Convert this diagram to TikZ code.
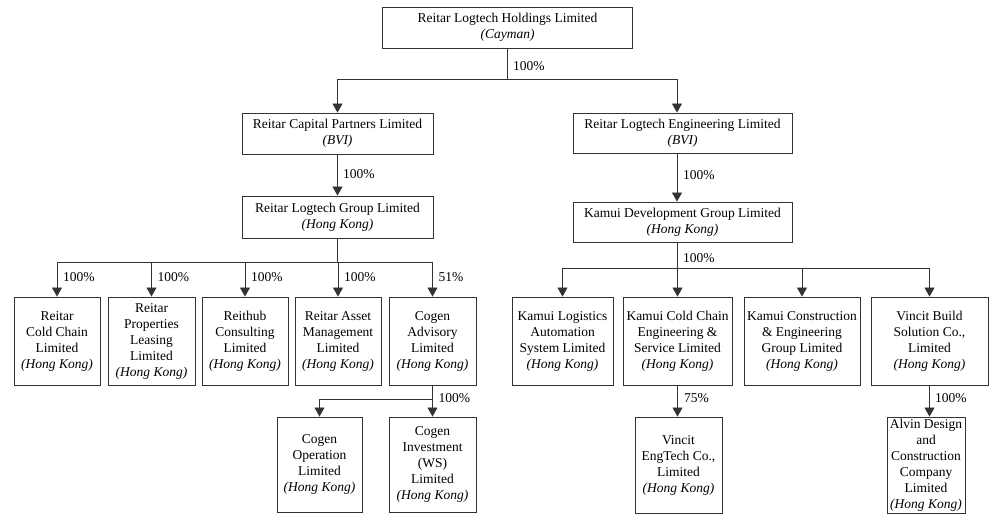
\documentclass[tikz,border=0pt]{standalone}
\usepackage{fontspec}
\setmainfont{Liberation Serif}
\usetikzlibrary{arrows.meta}
\begin{document}
\begin{tikzpicture}[x=1pt,y=-1pt,
  box/.style={draw=black!80, line width=0.9pt, align=center, inner sep=1pt,
    font=\fontsize{13.5}{16}\selectfont},
  conn/.style={draw=black!80, line width=0.8pt},
  arr/.style={conn, -{Triangle[width=10pt,length=9pt]}},
  pct/.style={anchor=west, inner sep=0pt, font=\fontsize{13.5}{16}\selectfont}]
\useasboundingbox (0,0) rectangle (1002,526);
% top levels
\node[box, minimum width=250pt, minimum height=41pt] (top) at (507.5,27.5) {Reitar Logtech Holdings Limited\\\textit{(Cayman)}};
\node[box, minimum width=191pt, minimum height=41pt] (rcp) at (337.5,133.5) {Reitar Capital Partners Limited\\\textit{(BVI)}};
\node[box, minimum width=219pt, minimum height=40pt] (rle) at (682.5,133) {Reitar Logtech Engineering Limited\\\textit{(BVI)}};
\node[box, minimum width=191pt, minimum height=42pt] (rlg) at (337.5,217) {Reitar Logtech Group Limited\\\textit{(Hong Kong)}};
\node[box, minimum width=219pt, minimum height=40pt] (kdg) at (682.5,222) {Kamui Development Group Limited\\\textit{(Hong Kong)}};
% left row
\node[box, minimum width=86pt, minimum height=88pt] (L1) at (57,341) {Reitar\\Cold Chain\\Limited\\\textit{(Hong Kong)}};
\node[box, minimum width=87pt, minimum height=88pt] (L2) at (151.5,341) {Reitar\\Properties\\Leasing\\Limited\\\textit{(Hong Kong)}};
\node[box, minimum width=86pt, minimum height=88pt] (L3) at (245,341) {Reithub\\Consulting\\Limited\\\textit{(Hong Kong)}};
\node[box, minimum width=86pt, minimum height=88pt] (L4) at (338,341) {Reitar Asset\\Management\\Limited\\\textit{(Hong Kong)}};
\node[box, minimum width=87pt, minimum height=88pt] (L5) at (432.5,341) {Cogen\\Advisory\\Limited\\\textit{(Hong Kong)}};
% right row
\node[box, minimum width=101pt, minimum height=88pt] (R1) at (562.5,341) {Kamui Logistics\\Automation\\System Limited\\\textit{(Hong Kong)}};
\node[box, minimum width=109pt, minimum height=88pt] (R2) at (677.5,341) {Kamui Cold Chain\\Engineering \&\\Service Limited\\\textit{(Hong Kong)}};
\node[box, minimum width=116pt, minimum height=88pt] (R3) at (802,341) {Kamui Construction\\\& Engineering\\Group Limited\\\textit{(Hong Kong)}};
\node[box, minimum width=117pt, minimum height=88pt] (R4) at (929.5,341) {Vincit Build\\Solution Co.,\\Limited\\\textit{(Hong Kong)}};
% bottom row
\node[box, minimum width=85pt, minimum height=95pt] (C1) at (319.5,464.5) {Cogen\\Operation\\Limited\\\textit{(Hong Kong)}};
\node[box, minimum width=87pt, minimum height=95pt] (C2) at (432.5,464.5) {Cogen\\Investment\\(WS)\\Limited\\\textit{(Hong Kong)}};
\node[box, minimum width=87pt, minimum height=96pt] (V) at (678.5,465) {Vincit\\EngTech Co.,\\Limited\\\textit{(Hong Kong)}};
\node[box, minimum width=78pt, minimum height=96pt] (A) at (926,465) {Alvin Design\\and\\Construction\\Company\\Limited\\\textit{(Hong Kong)}};
% junctions
\coordinate (j1) at (507.5,79);
\coordinate (j2) at (337.5,262);
\coordinate (j3) at (677,268);
\coordinate (j4) at (432.5,399);
% connectors top
\draw[conn] (top.south) -- (j1);
\draw[arr] (j1) -| (rcp.north);
\draw[arr] (j1) -| ([xshift=-5.5pt]rle.north);
\draw[arr] (rcp.south) -- (rlg.north);
\draw[arr] ([xshift=-5.5pt]rle.south) -- ([xshift=-5.5pt]kdg.north);
% left row
\draw[conn] (rlg.south) -- (j2);
\draw[conn] (j2 -| L1.north) -- (j2 -| L5.north);
\foreach \n in {L1,L2,L3,L4,L5} \draw[arr] (j2 -| \n.north) -- (\n.north);
% right row
\draw[conn] ([xshift=-5.5pt]kdg.south) -- (j3);
\draw[conn] (j3 -| R1.north) -- (j3 -| R4.north);
\foreach \n in {R1,R2,R3,R4} \draw[arr] (j3 -| \n.north) -- (\n.north);
% bottom
\draw[conn] (L5.south) -- (j4);
\draw[conn] (j4) -- (j4 -| C1.north);
\draw[arr] (j4 -| C1.north) -- (C1.north);
\draw[arr] (j4) -- (C2.north);
\draw[arr] (R2.south) -- (R2.south |- V.north);
\draw[arr] (R4.south) -- (R4.south |- A.north);
% labels
\node[pct] (p1) at (513,66) {100\%};
\node[pct] (p2) at (343,174) {100\%};
\node[pct] (p3) at (683,175) {100\%};
\node[pct] (p4) at (63,277) {100\%};
\node[pct] (p5) at (157.5,277) {100\%};
\node[pct] (p6) at (251,277) {100\%};
\node[pct] (p7) at (344,277) {100\%};
\node[pct] (p8) at (438.5,277) {51\%};
\node[pct] (p9) at (683,258) {100\%};
\node[pct] (p10) at (438.5,398) {100\%};
\node[pct] (p11) at (684,398) {75\%};
\node[pct] (p12) at (935,398) {100\%};
\end{tikzpicture}
\end{document}
